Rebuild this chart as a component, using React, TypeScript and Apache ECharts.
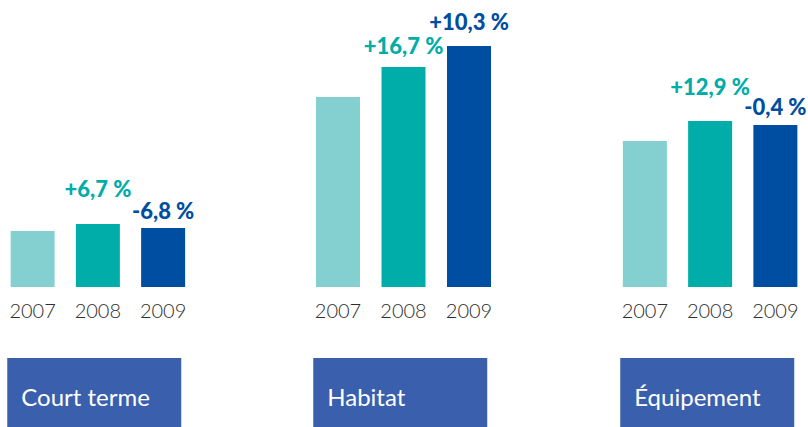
import React, { useEffect, useRef } from "react";
import * as echarts from "echarts";

const years = ["2007", "2008", "2009"];
const groups = ["Court terme", "Habitat", "Équipement"];
const courtTerme = [56, 63, 59];
const habitat = [190, 220, 241];
const equipement = [146, 166, 162];
const courtTermeLabels = ["", "+6,7 %", "-6,8 %"];
const habitatLabels = ["", "+16,7 %", "+10,3 %"];
const equipementLabels = ["", "+12,9 %", "-0,4 %"];

// styling (not data)
const barColors = ["#84D0D0", "#00ADA9", "#004EA1"];
const labelDistances = [
  [0, 25, 7],
  [0, 11, 14],
  [0, 24, 8],
];
const gridLefts = [-0.75, 305.25, 612.25];
const boxColor = "#3A5FAD";

export default function App() {
  const ref = useRef<HTMLDivElement>(null);
  useEffect(() => {
    document.body.style.margin = "0";
    if (!ref.current) return;
    const chart = echarts.init(ref.current, null, { renderer: "svg" });
    const values = [courtTerme, habitat, equipement];
    const labels = [courtTermeLabels, habitatLabels, equipementLabels];
    const font = "Lato, 'Open Sans', sans-serif";
    const grids = gridLefts.map((l) => ({ left: l, width: 196.5, top: 27, height: 260 }));
    const xAxes = gridLefts.map((_, i) => ({
      type: "category",
      gridIndex: i,
      data: years,
      axisLine: { show: false },
      axisTick: { show: false },
      axisLabel: { margin: 13, fontSize: 20, fontWeight: 300, color: "#2e2e2e", fontFamily: font },
    }));
    const yAxes = gridLefts.map((_, i) => ({
      type: "value",
      gridIndex: i,
      min: 0,
      max: 260,
      show: false,
      splitLine: { show: false },
    }));
    const series = values.map((vals, gi) => ({
      type: "bar",
      xAxisIndex: gi,
      yAxisIndex: gi,
      barWidth: 44,
      data: vals.map((v, bi) => ({
        value: v,
        itemStyle: { color: barColors[bi] },
        label: {
          show: labels[gi][bi] !== "",
          position: "top",
          distance: labelDistances[gi][bi],
          formatter: labels[gi][bi],
          color: bi === 1 ? "#00ADA9" : "#004EA1",
          fontSize: 22,
          fontWeight: 900,
          fontFamily: font,
        },
      })),
    }));
    const graphic: any[] = [];
    groups.forEach((g, i) => {
      graphic.push({
        type: "rect",
        shape: { x: gridLefts[i] + 8, y: 358, width: 174, height: 70 },
        style: { fill: boxColor },
      });
      graphic.push({
        type: "text",
        x: gridLefts[i] + 22,
        y: 396,
        style: {
          text: g,
          fill: "#ffffff",
          fontSize: 24,
          fontFamily: font,
          verticalAlign: "middle",
          align: "left",
        },
      });
    });
    chart.setOption({
      animation: false,
      grid: grids,
      xAxis: xAxes,
      yAxis: yAxes,
      series,
      graphic,
    });
    return () => chart.dispose();
  }, []);
  return <div ref={ref} style={{ width: 808, height: 427 }} />;
}
